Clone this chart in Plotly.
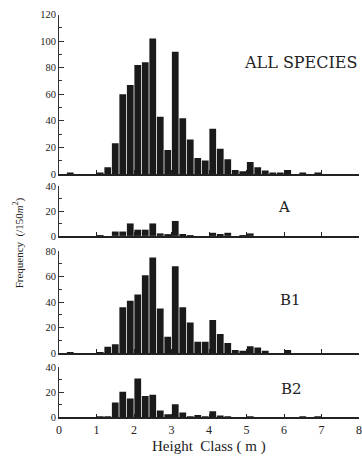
import numpy as np
import plotly.graph_objects as go

# Height classes (lower bound, m), 0.2 m wide
class_lower = [0.0, 0.2, 0.4, 0.6, 0.8, 1.0, 1.2, 1.4, 1.6, 1.8, 2.0, 2.2, 2.4, 2.6, 2.8,
               3.0, 3.2, 3.4, 3.6, 3.8, 4.0, 4.2, 4.4, 4.6, 4.8, 5.0, 5.2, 5.4, 5.6, 5.8,
               6.0, 6.2, 6.4, 6.6, 6.8]
class_width = 0.2

all_species = [0, 1, 0, 0, 0, 1, 5, 23, 60, 67, 82, 84, 102, 43, 18,
               92, 42, 26, 12, 10, 34, 19, 11, 3, 2, 9, 5, 2.5, 0.5, 0.5,
               3, 0, 1, 0, 1]
group_a = [0, 0, 0, 0, 0, 0.5, 0, 3.5, 3.5, 10, 5, 5, 10, 2, 1,
           12, 1.5, 0.5, 0, 0, 2.5, 1.5, 2.5, 0, 0.5, 2, 0, 0, 0, 0,
           0, 0, 0, 0, 0]
group_b1 = [0, 0.5, 0, 0, 0, 0.5, 5, 7, 36, 41, 46, 61, 75, 35, 13,
            68, 36, 24, 9, 9, 26, 15, 8, 2.5, 2, 5.5, 4.5, 2, 0, 0,
            2.5, 0, 0, 0, 0]
group_b2 = [0, 0, 0, 0, 0, 0.5, 1, 12, 20.5, 15, 31, 17, 18, 5.5, 2.5,
            10.5, 4, 1, 2, 0.5, 5, 1.5, 0.3, 0, 0, 1, 0, 0, 0, 0,
            0, 0, 1, 0, 1]

panel_names = ["ALL SPECIES", "A", "B1", "B2"]
panel_values = [all_species, group_a, group_b1, group_b2]
panel_ymax = [120, 40, 80, 40]
x_ticks = [0, 1, 2, 3, 4, 5, 6, 7, 8]

H = 464.0
# pixel rows (bottom, top) of each panel's plot area
panel_px = [(173.0, 9.8), (236.5, 185.5), (356.7, 252.0), (422.5, 371.0)]
label_pos = [(243, 59, "left", 16), (285, 207, "center", 15),
             (279, 302, "left", 15), (280, 393, "left", 15)]

L, R = 59, 2
W = 362 - L - R

mids = np.array(class_lower) + class_width / 2

fig = go.Figure()
serif = "Liberation Serif"
ink = "#1a1a1a"

for i, (name, vals) in enumerate(zip(panel_names, panel_values)):
    k = "" if i == 0 else str(i + 1)
    fig.add_trace(go.Bar(x=mids, y=vals, width=class_width * 0.9,
                         marker=dict(color=ink, line=dict(width=0)),
                         xaxis="x" + k, yaxis="y" + k, showlegend=False))
    b, t = panel_px[i]
    fig.layout["yaxis" + k] = dict(
        domain=[1 - b / H, 1 - t / H], range=[0, panel_ymax[i]], anchor="x" + k,
        showgrid=False, zeroline=False, showline=True, linecolor="#333", linewidth=1,
        ticks="inside", ticklen=5, tickwidth=1, tickcolor="#333", dtick=20, tick0=0,
        minor=dict(dtick=10, ticks="inside", ticklen=3, tickcolor="#333"),
        tickfont=dict(family=serif, size=10.5, color="#222"), fixedrange=True)
    fig.layout["xaxis" + k] = dict(
        domain=[0, 1], range=[0, 8], anchor="y" + k,
        showgrid=False, zeroline=False, showline=True, linecolor="#222", linewidth=1.5,
        ticks="inside", ticklen=4, tickwidth=1, tickcolor="#222",
        tickvals=x_ticks, ticktext=[str(v) for v in x_ticks],
        showticklabels=(i == 3), ticklabeloverflow="allow",
        tickfont=dict(family=serif, size=12, color="#222"), fixedrange=True)
    lx, ly, anc, fs = label_pos[i]
    fig.add_annotation(text=name, xref="paper", yref="paper",
                       x=(lx - L) / W, y=1 - ly / H, xanchor=anc, yanchor="middle",
                       showarrow=False, font=dict(family="DejaVu Serif", size=fs, color="#222"))

fig.add_annotation(text="Height  Class ( m )", xref="paper", yref="paper",
                   x=(209 - L) / W, y=1 - 452 / H, xanchor="center", yanchor="middle",
                   showarrow=False, font=dict(family=serif, size=15, color="#222"))
fig.add_annotation(text="Frequency  (/150<i>m</i><sup>2</sup>)", xref="paper", yref="paper",
                   x=(18 - L) / W, y=1 - 244 / H, xanchor="center", yanchor="middle",
                   textangle=-90, showarrow=False,
                   font=dict(family=serif, size=11, color="#222"))

fig.update_layout(width=362, height=464, margin=dict(l=L, r=R, t=0, b=0),
                  paper_bgcolor="white", plot_bgcolor="white", bargap=0.1)
fig.write_html("out.html")
